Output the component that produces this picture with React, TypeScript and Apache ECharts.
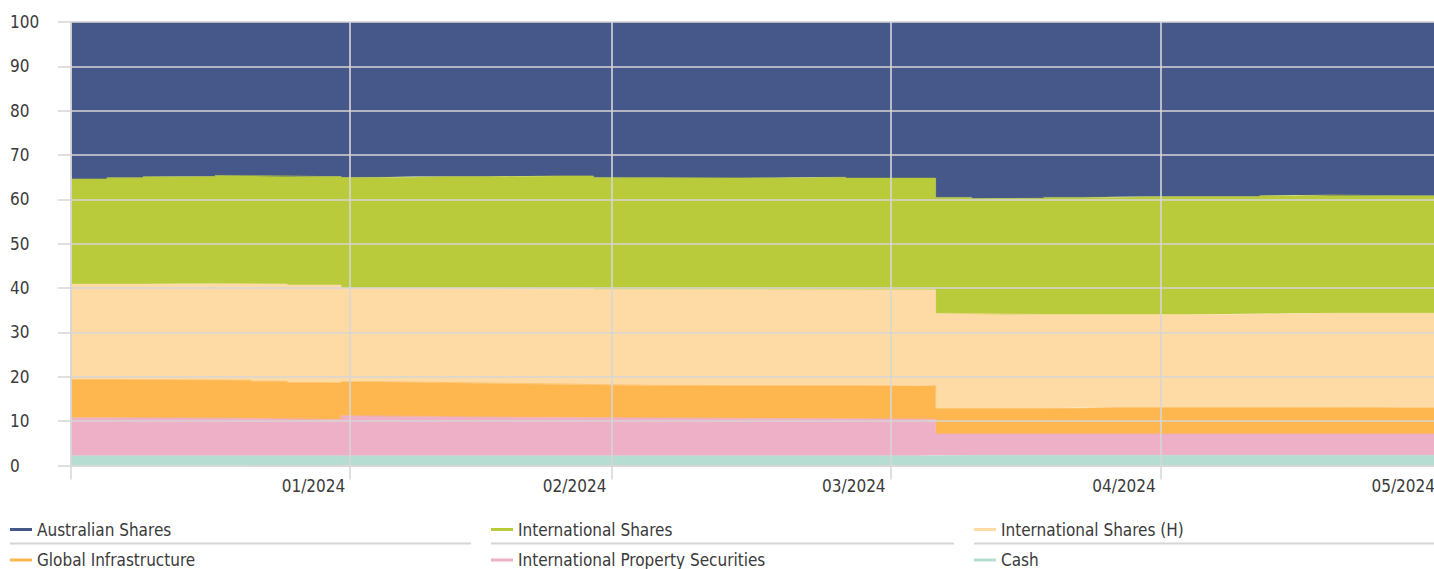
import React, { useEffect, useRef } from 'react';
import * as echarts from 'echarts';

// Day offsets from 31/12/2023 at which allocations are sampled (values hold until the next sample)
const days = [0, 4, 8, 12, 16, 20, 24, 28, 30, 34, 38, 42, 46, 50, 54, 58, 62, 66, 70, 74, 78, 82, 86, 90, 94, 96, 100, 104, 108, 112, 116, 120, 124, 128, 132, 136, 140, 144, 148, 152];

const cash = [2.2, 2.2, 2.2, 2.2, 2.2, 2.2, 2.2, 2.2, 2.2, 2.2, 2.2, 2.2, 2.2, 2.2, 2.2, 2.2, 2.2, 2.2, 2.2, 2.2, 2.2, 2.2, 2.2, 2.2, 2.2, 2.3, 2.3, 2.3, 2.3, 2.3, 2.3, 2.3, 2.3, 2.3, 2.3, 2.3, 2.3, 2.3, 2.3, 2.3];
const propertySec = [8.55, 8.55, 8.5, 8.5, 8.45, 8.4, 8.25, 8.2, 9.0, 8.9, 8.8, 8.75, 8.7, 8.65, 8.6, 8.55, 8.5, 8.5, 8.45, 8.4, 8.4, 8.35, 8.35, 8.3, 8.25, 4.83, 4.83, 4.83, 4.83, 4.83, 4.83, 4.83, 4.83, 4.83, 4.83, 4.83, 4.83, 4.83, 4.83, 4.83];
const infrastructure = [8.65, 8.6, 8.6, 8.6, 8.6, 8.4, 8.25, 8.25, 7.7, 7.7, 7.7, 7.65, 7.6, 7.55, 7.45, 7.4, 7.35, 7.35, 7.35, 7.4, 7.4, 7.45, 7.4, 7.4, 7.55, 5.72, 5.72, 5.72, 5.77, 5.92, 5.92, 5.92, 5.92, 5.92, 5.97, 5.97, 5.92, 5.87, 5.87, 5.87];
const intlSharesH = [21.5, 21.55, 21.6, 21.7, 21.75, 21.9, 22.0, 22.05, 21.1, 21.2, 21.3, 21.4, 21.5, 21.55, 21.65, 21.55, 21.65, 21.65, 21.7, 21.7, 21.65, 21.65, 21.65, 21.7, 21.6, 21.45, 21.3, 21.2, 21.15, 21.0, 21.0, 21.0, 21.0, 21.1, 21.1, 21.25, 21.3, 21.35, 21.35, 21.35];
const intlShares = [23.7, 24.0, 24.2, 24.15, 24.4, 24.4, 24.45, 24.45, 24.95, 25.0, 25.15, 25.15, 25.15, 25.35, 25.4, 25.25, 25.2, 25.2, 25.15, 25.15, 25.25, 25.35, 25.2, 25.2, 25.2, 26.15, 26.05, 26.2, 26.4, 26.4, 26.55, 26.6, 26.6, 26.5, 26.65, 26.65, 26.55, 26.5, 26.45, 26.45];
const ausShares = [35.4, 35.1, 34.9, 34.85, 34.6, 34.7, 34.85, 34.85, 35.05, 35.0, 34.85, 34.85, 34.85, 34.7, 34.7, 35.05, 35.1, 35.1, 35.15, 35.15, 35.1, 35.0, 35.2, 35.2, 35.2, 39.55, 39.8, 39.75, 39.55, 39.55, 39.4, 39.35, 39.35, 39.35, 39.15, 39.0, 39.1, 39.15, 39.2, 39.2];

const monthTickDays = [31, 60, 91, 121, 152];
const monthLabels = ['01/2024', '02/2024', '03/2024', '04/2024', '05/2024'];

const seriesNames = ['Cash', 'International Property Securities', 'Global Infrastructure', 'International Shares (H)', 'International Shares', 'Australian Shares'];
const seriesValues = [cash, propertySec, infrastructure, intlSharesH, intlShares, ausShares];
const seriesColors = ['#b5ddd1', '#edb0c6', '#feb64e', '#fedba5', '#b9ca3a', '#465789'];

const legendRows = [
  ['Australian Shares', 'International Shares', 'International Shares (H)'],
  ['Global Infrastructure', 'International Property Securities', 'Cash'],
];

const FONT = "'Liberation Sans Narrow', 'Arial Narrow', 'DejaVu Sans Condensed', 'Roboto Condensed', sans-serif";
const FS = 17;
const TEXT = '#3a3a3a';
const GRID = '#d6d6d6';

export default function App() {
  const ref = useRef<HTMLDivElement>(null);
  useEffect(() => {
    if (!ref.current) return;
    const chart = echarts.init(ref.current, undefined, { renderer: 'svg' });
    // value first, day second, so that the stack runs along the y axis
    const series = seriesNames.map((name, i) => ({
      name,
      type: 'line',
      stack: 'total',
      step: 'end',
      symbol: 'none',
      showSymbol: false,
      color: seriesColors[i],
      itemStyle: { color: seriesColors[i] },
      lineStyle: { width: 0.6, color: seriesColors[i] },
      areaStyle: { color: seriesColors[i], opacity: 1 },
      encode: { x: 1, y: 0 },
      data: days.map((d, j) => [seriesValues[i][j], d]),
    }));
    const colLeft = [10, 491, 974];
    const rowTop = [521, 551.5];
    const legends: any[] = [];
    legendRows.forEach((row, r) =>
      row.forEach((name, c) =>
        legends.push({
          left: colLeft[c],
          top: rowTop[r],
          padding: 0,
          icon: 'rect',
          itemWidth: 22,
          itemHeight: 3,
          selectedMode: false,
          textStyle: { fontFamily: FONT, fontSize: FS, color: TEXT },
          data: [name],
        })
      )
    );
    chart.setOption({
      animation: false,
      textStyle: { fontFamily: FONT },
      grid: { left: 71, right: 0, top: 22, bottom: 103.5 },
      legend: legends,
      xAxis: {
        type: 'value',
        min: 0,
        max: 152,
        z: 5,
        axisLine: { show: true, lineStyle: { color: GRID, width: 1.5 } },
        axisTick: { show: true, length: 14, customValues: [0, ...monthTickDays], lineStyle: { color: GRID, width: 1.5 } },
        splitLine: { show: true, lineStyle: { color: GRID, width: 1.6 } },
        axisLabel: {
          customValues: monthTickDays,
          formatter: (v: number) => monthLabels[monthTickDays.indexOf(Math.round(v))] || '',
          align: 'right',
          padding: [0, 5, 0, 0],
          margin: 12,
          fontFamily: FONT,
          fontSize: FS,
          color: TEXT,
        },
      },
      yAxis: {
        type: 'value',
        min: 0,
        max: 100,
        interval: 10,
        z: 5,
        axisLine: { show: true, lineStyle: { color: GRID, width: 1.5 } },
        axisTick: { show: true, length: 13, lineStyle: { color: GRID, width: 1.5 } },
        splitLine: { show: true, lineStyle: { color: GRID, width: 1.6 } },
        axisLabel: { align: 'left', margin: 61, fontFamily: FONT, fontSize: FS, color: TEXT },
      },
      graphic: [
        { type: 'line', shape: { x1: 10, y1: 543.5, x2: 471, y2: 543.5 }, style: { stroke: GRID, lineWidth: 2 } },
        { type: 'line', shape: { x1: 491, y1: 543.5, x2: 954, y2: 543.5 }, style: { stroke: GRID, lineWidth: 2 } },
        { type: 'line', shape: { x1: 974, y1: 543.5, x2: 1434, y2: 543.5 }, style: { stroke: GRID, lineWidth: 2 } },
      ],
      series,
    });
    return () => chart.dispose();
  }, []);
  return (
    <div style={{ position: 'absolute', left: 0, top: 0, width: 1434, height: 569, overflow: 'hidden' }}>
      <div ref={ref} style={{ width: 1440, height: 569 }} />
    </div>
  );
}
